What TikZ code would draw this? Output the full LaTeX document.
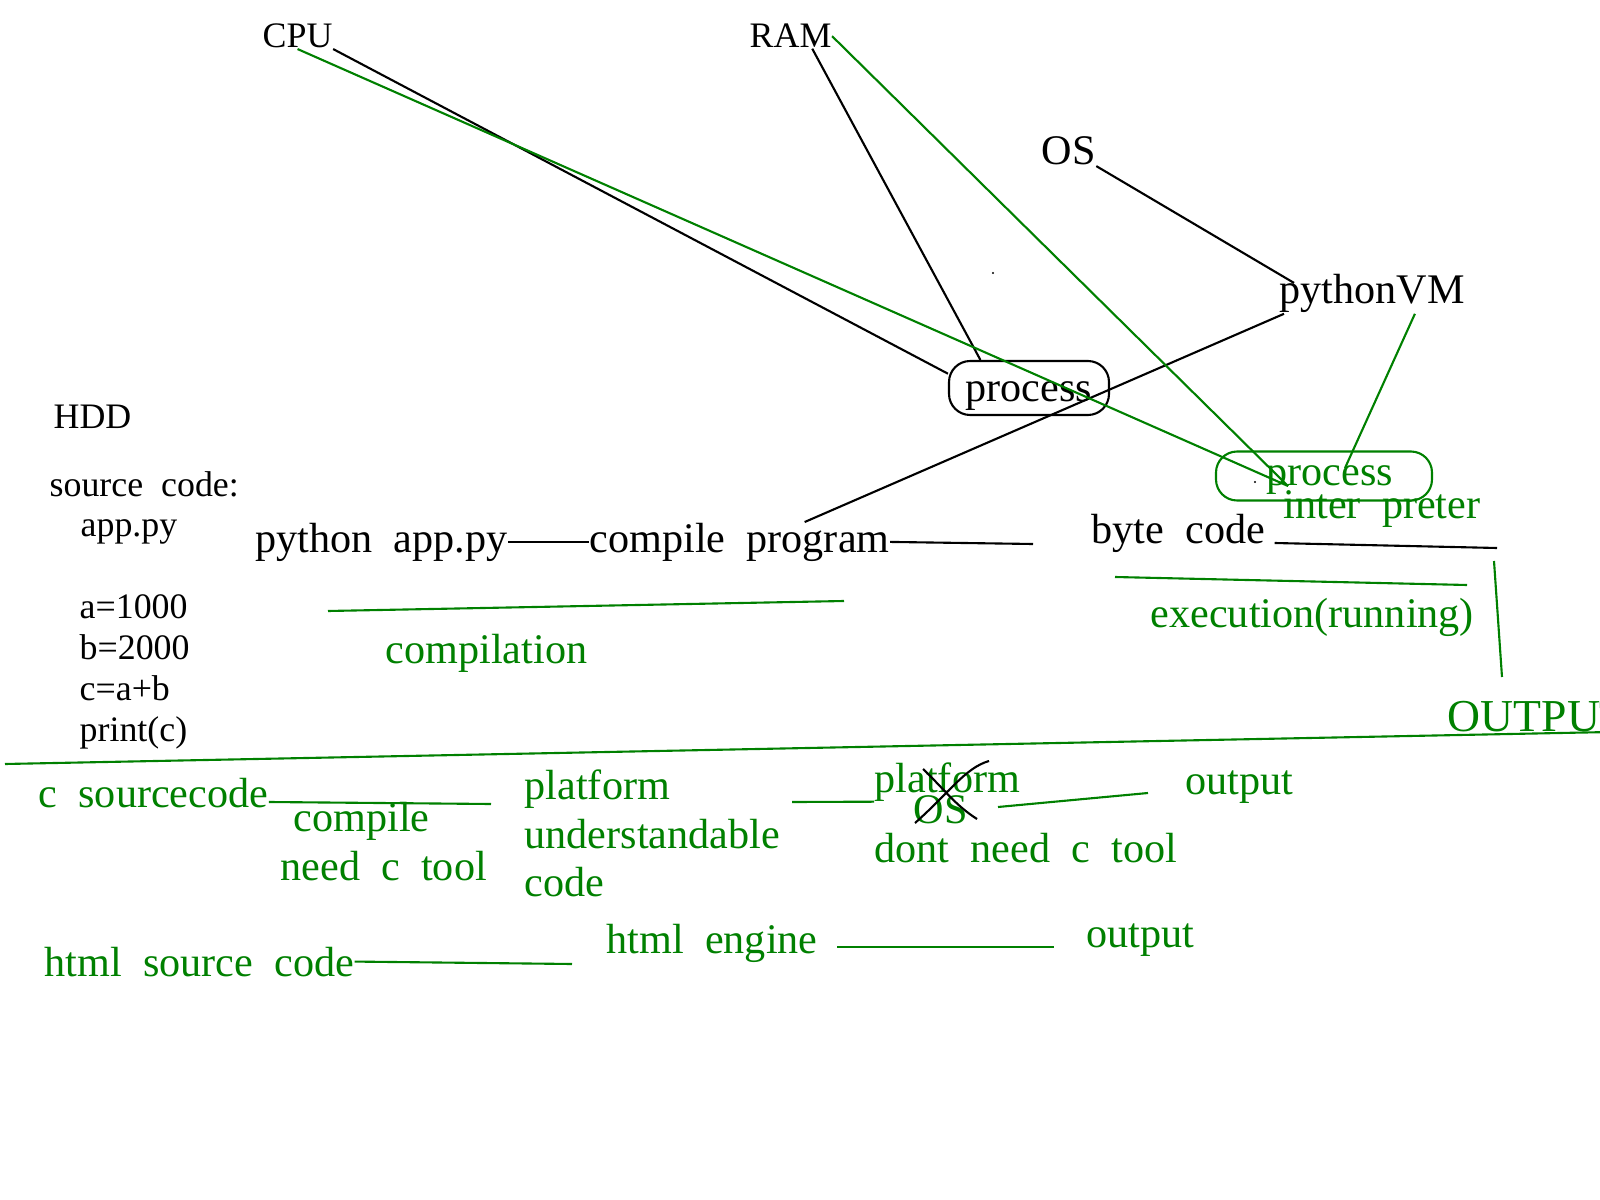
\documentclass[tikz,border=0pt]{standalone}
\usepackage{fontspec}
\setmainfont{Liberation Serif}
\definecolor{pen}{RGB}{0,128,0}

\begin{document}
\begin{tikzpicture}[x=0.1mm,y=-0.1mm,
	txt/.style={inner sep=0pt,anchor=base west,font=\fontsize{12}{14.5}\selectfont},
	sml/.style={txt,font=\fontsize{10.2}{12}\selectfont},
	gtxt/.style={txt,text=pen},
	wire/.style={line width=0.6pt},
	gwire/.style={wire,draw=pen}]
	\useasboundingbox (0,0) rectangle (1600,1200);
	% hardware
	\node[sml] (cpu) at (262,48) {CPU};
	\node[sml] (ram) at (749,48) {RAM};
	\node[txt] (os) at (1041,165) {OS};
	\node[txt] (pvm) at (1279,304) {pythonVM};
	\node[draw,wire,rounded corners=6pt,inner sep=0pt,minimum width=16mm,minimum height=5.4mm,text height=3.4mm,text depth=0.6mm,font=\fontsize{12}{14.5}\selectfont] (proc) at (1029,388) {process\hspace{1.2mm}};
	\node[draw=pen,wire,text=pen,rounded corners=6pt,inner sep=0pt,minimum width=21.6mm,minimum height=4.9mm,text height=2.5mm,text depth=0.7mm,font=\fontsize{12}{14.5}\selectfont] (gproc) at (1324,476) {\hspace{1.2mm}process};
	\node[gtxt] (interp) at (1283,518) {inter\ \ preter};
	% hdd
	\node[sml] (hdd) at (53,428) {HDD};
	\node[sml] (src) at (49,496) {source\ \ code:};
	\node[sml] (app) at (80,536) {app.py};
	\foreach \stmt [count=\i] in {a=1000,b=2000,c=a+b,print(c)}
		\node[sml] (code\i) at (79,{577+41*\i}) {\stmt};
	% python run
	\node[txt] (pyapp) at (255,552) {python\ \ app.py};
	\node[txt] (comp) at (589,552) {compile\ \ program};
	\node[txt] (byte) at (1091,543) {byte\ \ code};
	\node[gtxt] (compilation) at (385,663) {compilation};
	\node[gtxt] (exec) at (1150,627) {execution(running)};
	\node[gtxt,font=\fontsize{13}{15}\selectfont] (out) at (1447,731) {OUTPUT};
	% c and html
	\node[gtxt] (csrc) at (38,807) {c\ \ sourcecode};
	\node[gtxt] (ccomp) at (293,831) {compile};
	\node[gtxt] (ctool) at (280,880) {need\ \ c\ \ tool};
	\node[gtxt] (plat1) at (524,799) {platform};
	\node[gtxt] (under) at (524,848) {understandable};
	\node[gtxt] (pcode) at (524,896) {code};
	\node[gtxt] (plat2) at (874,792) {platform};
	\node[gtxt] (gos) at (913,823) {OS};
	\node[gtxt] (out1) at (1185,794) {output};
	\node[gtxt] (dont) at (874,862) {dont\ \ need\ \ c\ \ tool};
	\node[gtxt] (html) at (44,976) {html\ \ source\ \ code};
	\node[gtxt] (engine) at (606,953) {html\ \ engine};
	\node[gtxt] (out2) at (1086,947) {output};
	% free ends
	\coordinate (gmeet) at (1288,486);
	\coordinate (gvm) at (1345,468);
	\coordinate (bcend) at (1033,544);
	\coordinate (bcout) at (1497,548);
	\coordinate (cplA) at (328,611);
	\coordinate (cplB) at (844,601);
	\coordinate (exA) at (1115,577);
	\coordinate (exB) at (1467,585);
	\coordinate (upA) at (1494,561);
	\coordinate (upB) at (1502,677);
	\coordinate (divA) at (5,764);
	\coordinate (divB) at (1610,732);
	\coordinate (cA) at (491,804);
	\coordinate (cB) at (792,802);
	\coordinate (osA) at (998,807);
	\coordinate (osB) at (1148,793);
	\coordinate (hA) at (572,964);
	\coordinate (eA) at (837,947);
	\coordinate (eB) at (1054,947);
	% black lines
	\draw[wire] (cpu.south east) -- (proc.170);
	\draw[wire] (ram.-30) -- (proc.150);
	\draw[wire] (os.south east) -- ([xshift=1.5mm,yshift=1.1mm]pvm.west);
	\draw[wire] ([xshift=0.5mm]pvm.south west) -- (comp.17);
	\draw[wire] (pyapp.east) -- (comp.west);
	\draw[wire] (comp.east) -- (bcend);
	\draw[wire] ([xshift=0.9mm]byte.base east) -- (bcout);
	% green lines
	\draw[gwire] (cpu.south) -- (gmeet);
	\draw[gwire] (ram.east) -- (gmeet);
	\draw[gwire] (pvm.-25) -- (gvm);
	\draw[gwire] (cplA) -- (cplB);
	\draw[gwire] (exA) -- (exB);
	\draw[gwire] (upA) -- (upB);
	\draw[gwire] (divA) -- (divB);
	\draw[gwire] ([yshift=0.5mm]csrc.base east) -- (cA);
	\draw[gwire] (cB) -- (plat2.south west);
	\draw[gwire] (osA) -- (osB);
	\draw[gwire] (html.east) -- (hA);
	\draw[gwire] (eA) -- (eB);
	% OS crossed out
	\draw[wire] (915,823) .. controls (950,792) and (965,768) .. (989,761);
	\draw[wire] (923,769) .. controls (945,790) and (955,805) .. (977,819);
	\fill (993,273) circle (1.2);
	\fill (1255,482) circle (1.2);
\end{tikzpicture}
\end{document}
